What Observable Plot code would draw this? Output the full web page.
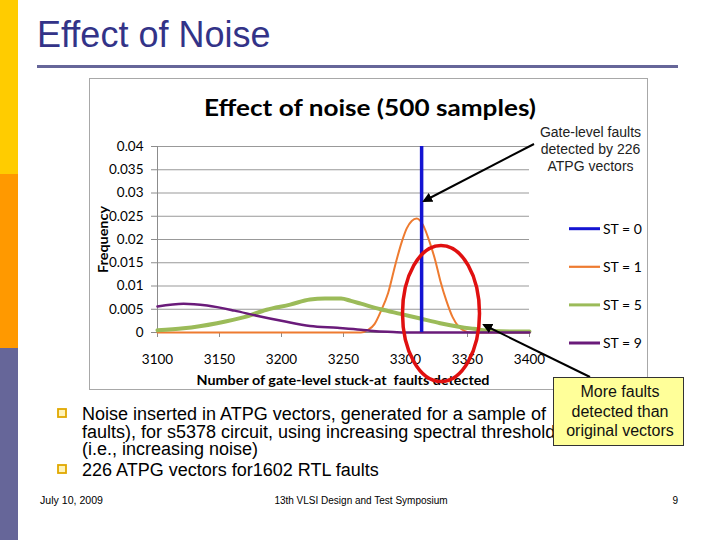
<!DOCTYPE html>
<html><head><meta charset="utf-8">
<script src="https://cdn.jsdelivr.net/npm/d3@7"></script>
<script src="https://cdn.jsdelivr.net/npm/@observablehq/plot@0.6"></script>
<style>
html,body{margin:0;padding:0;background:#fff;}
#slide{position:relative;width:720px;height:540px;overflow:hidden;background:#fff;}
#back,#front{position:absolute;left:0;top:0;}
#front{pointer-events:none;}
#chart{position:absolute;left:89px;top:78px;width:559px;height:312px;}
text{white-space:pre;}
</style></head>
<body>
<div id="slide">
<svg id="back" width="720" height="540"></svg>
<div id="chart"></div>
<svg id="front" width="720" height="540"></svg>
</div>
<script>
// ---- data ----
const xTicks = [3100, 3150, 3200, 3250, 3300, 3350, 3400];
const yTicks = [0, 0.005, 0.01, 0.015, 0.02, 0.025, 0.03, 0.035, 0.04];
const seriesNames = ["ST = 0", "ST = 1", "ST = 5", "ST = 9"];
const seriesColors = ["#1414D2", "#EE7B30", "#9BBB59", "#6A1B7A"];

const st0Faults = [3313];
const st0Freq = [1];

const st1Faults = [3100, 3200, 3264, 3270, 3275, 3280, 3286, 3292, 3297, 3301, 3305, 3309, 3314, 3319, 3324, 3328, 3333, 3338, 3343, 3348, 3353, 3400];
const st1Freq   = [0, 0, 0, 0.0006, 0.0018, 0.0045, 0.0085, 0.0148, 0.0195, 0.0224, 0.024, 0.0245, 0.0232, 0.0198, 0.0155, 0.0112, 0.0068, 0.0033, 0.0012, 0.0003, 0, 0];

const st5Faults = [3100, 3121, 3148, 3170, 3188, 3207, 3223, 3235, 3248, 3256, 3264, 3280, 3296, 3312, 3328, 3344, 3355, 3370, 3400];
const st5Freq   = [0.0005, 0.0009, 0.002, 0.0033, 0.0049, 0.006, 0.0071, 0.0073, 0.0073, 0.0068, 0.0062, 0.005, 0.004, 0.003, 0.002, 0.0012, 0.0008, 0.0003, 0.0002];

const st9Faults = [3100, 3121, 3140, 3162, 3180, 3202, 3223, 3245, 3264, 3274, 3290, 3300, 3400];
const st9Freq   = [0.0056, 0.0062, 0.0058, 0.0047, 0.0036, 0.0024, 0.0014, 0.001, 0.0006, 0.0003, 0.0001, 0, 0];

const toRows = (xs, ys) => xs.map((x, i) => ({faults: x, freq: ys[i]}));
const st0 = toRows(st0Faults, st0Freq);
const st1 = toRows(st1Faults, st1Freq);
const st5 = toRows(st5Faults, st5Freq);
const st9 = toRows(st9Faults, st9Freq);

const grey = "#8c8c8c";
const yFmt = d => String(+d.toFixed(3));

const plot = Plot.plot({
  width: 559, height: 312,
  marginLeft: 68, marginRight: 119, marginTop: 68, marginBottom: 58,
  x: {domain: [3100, 3400]},
  y: {domain: [0, 0.04]},
  style: {fontFamily: "Lato, sans-serif", fontSize: "13.5px", color: "#000", background: "transparent", overflow: "visible"},
  marks: [
    Plot.gridY({ticks: yTicks, stroke: "#999999", strokeOpacity: 1}),
    Plot.ruleX([3100], {stroke: grey}),
    Plot.ruleY([0], {stroke: grey}),
    Plot.axisY({ticks: yTicks, tickSize: 6, tickPadding: 8, stroke: grey, fill: "#000", tickFormat: yFmt, label: null}),
    Plot.axisX({ticks: xTicks, tickSize: 5, tickPadding: 17, stroke: grey, fill: "#000", tickFormat: d => String(d), label: null}),
    Plot.line(st1, {x: "faults", y: "freq", stroke: seriesColors[1], strokeWidth: 2, curve: "monotone-x"}),
    Plot.line(st5, {x: "faults", y: "freq", stroke: seriesColors[2], strokeWidth: 4, curve: "monotone-x"}),
    Plot.line(st9, {x: "faults", y: "freq", stroke: seriesColors[3], strokeWidth: 2.5, curve: "monotone-x"}),
    Plot.ruleX(st0, {x: "faults", y1: 0, y2: "freq", stroke: seriesColors[0], strokeWidth: 3.5, clip: true})
  ]
});
document.getElementById("chart").appendChild(plot);

// ---- slide background layer ----
const back = d3.select("#back");
back.append("rect").attr("x", 0).attr("y", 0).attr("width", 18).attr("height", 174).attr("fill", "#FFCC00");
back.append("rect").attr("x", 0).attr("y", 174).attr("width", 18).attr("height", 174).attr("fill", "#FF9900");
back.append("rect").attr("x", 0).attr("y", 348).attr("width", 18).attr("height", 192).attr("fill", "#666699");
back.append("text").attr("x", 37).attr("y", 47).attr("font-family", "Liberation Sans, Arial, sans-serif")
  .attr("font-size", 36).attr("fill", "#333388").text("Effect of Noise");
back.append("rect").attr("x", 37).attr("y", 65).attr("width", 641).attr("height", 3).attr("fill", "#666699");
back.append("rect").attr("x", 89.5).attr("y", 78.5).attr("width", 558).attr("height", 311)
  .attr("fill", "#fff").attr("stroke", "#A8A8A8");

const bulletLines = [
  {t: "Noise inserted in ATPG vectors, generated for a sample of", y: 420, b: true},
  {t: "faults), for s5378 circuit, using increasing spectral threshold", y: 437.5, b: false},
  {t: "(i.e., increasing noise)", y: 455, b: false},
  {t: "226 ATPG vectors for1602 RTL faults", y: 476, b: true}
];
bulletLines.forEach(l => {
  if (l.b) back.append("rect").attr("x", 58).attr("y", l.y - 11).attr("width", 8).attr("height", 8)
    .attr("fill", "#FFF3B8").attr("stroke", "#E0A800").attr("stroke-width", 1.8);
  back.append("text").attr("x", 82).attr("y", l.y).attr("font-family", "Liberation Sans, Arial, sans-serif")
    .attr("font-size", 18).attr("fill", "#000").text(l.t);
});
const foot = {ff: "Liberation Sans, Arial, sans-serif", fs: 10};
back.append("text").attr("x", 40).attr("y", 504).attr("font-family", foot.ff).attr("font-size", foot.fs)
  .attr("textLength", 63).attr("lengthAdjust", "spacingAndGlyphs").text("July 10, 2009");
back.append("text").attr("x", 361).attr("y", 504).attr("text-anchor", "middle").attr("font-family", foot.ff).attr("font-size", foot.fs).text("13th VLSI Design and Test Symposium");
back.append("text").attr("x", 678).attr("y", 504).attr("text-anchor", "end").attr("font-family", foot.ff).attr("font-size", foot.fs).text("9");

// ---- front annotation layer ----
const front = d3.select("#front");
front.append("defs").append("marker").attr("id", "ah").attr("viewBox", "0 0 10 10")
  .attr("refX", 8).attr("refY", 5).attr("markerWidth", 5).attr("markerHeight", 5).attr("orient", "auto")
  .append("path").attr("d", "M0,0L10,5L0,10z").attr("fill", "#000");

// chart title and axis titles
front.append("text").attr("x", 370).attr("y", 116).attr("text-anchor", "middle")
  .attr("font-family", "Lato, sans-serif").attr("font-weight", "bold").attr("font-size", 22)
  .attr("textLength", 332).attr("lengthAdjust", "spacingAndGlyphs").text("Effect of noise (500 samples)");
front.append("text").attr("transform", "translate(108,239.5) rotate(-90)").attr("text-anchor", "middle")
  .attr("font-family", "Lato, sans-serif").attr("font-weight", "bold").attr("font-size", 13)
  .attr("textLength", 67).attr("lengthAdjust", "spacingAndGlyphs").text("Frequency");
front.append("text").attr("x", 343).attr("y", 385).attr("text-anchor", "middle")
  .attr("font-family", "Lato, sans-serif").attr("font-weight", "bold").attr("font-size", 13)
  .attr("textLength", 293).attr("lengthAdjust", "spacingAndGlyphs").text("Number of gate-level stuck-at  faults detected");

// legend
seriesNames.forEach((n, i) => {
  const y = 228.7 + 38.1 * i;
  front.append("line").attr("x1", 569).attr("x2", 600).attr("y1", y).attr("y2", y)
    .attr("stroke", seriesColors[i]).attr("stroke-width", i === 1 ? 2.2 : 3);
  front.append("text").attr("x", 603).attr("y", y + 5).attr("font-family", "Lato, sans-serif")
    .attr("font-size", 14).attr("fill", "#000").text(n);
});

// red ellipse
front.append("ellipse").attr("cx", 441).attr("cy", 313.5).attr("rx", 38.5).attr("ry", 68)
  .attr("fill", "none").attr("stroke", "#E01010").attr("stroke-width", 3.5);

// arrows
front.append("line").attr("x1", 534).attr("y1", 144).attr("x2", 424).attr("y2", 201)
  .attr("stroke", "#000").attr("stroke-width", 2).attr("marker-end", "url(#ah)");
front.append("line").attr("x1", 590).attr("y1", 377).attr("x2", 484).attr("y2", 325)
  .attr("stroke", "#000").attr("stroke-width", 2).attr("marker-end", "url(#ah)");

// annotation text
["Gate-level faults", "detected by 226", "ATPG vectors"].forEach((t, i) => {
  front.append("text").attr("x", 590.5).attr("y", 137 + 17 * i).attr("text-anchor", "middle")
    .attr("font-family", "Liberation Sans, Arial, sans-serif").attr("font-size", 14).attr("fill", "#222").text(t);
});

// yellow callout
front.append("rect").attr("x", 553.5).attr("y", 377.5).attr("width", 130).attr("height", 68)
  .attr("fill", "#FFFF99").attr("stroke", "#333").attr("stroke-width", 1);
["More faults", "detected than", "original vectors"].forEach((t, i) => {
  front.append("text").attr("x", 620).attr("y", 397 + 19.5 * i).attr("text-anchor", "middle")
    .attr("font-family", "Liberation Sans, Arial, sans-serif").attr("font-size", 16).attr("fill", "#111").text(t);
});
</script>
</body></html>
